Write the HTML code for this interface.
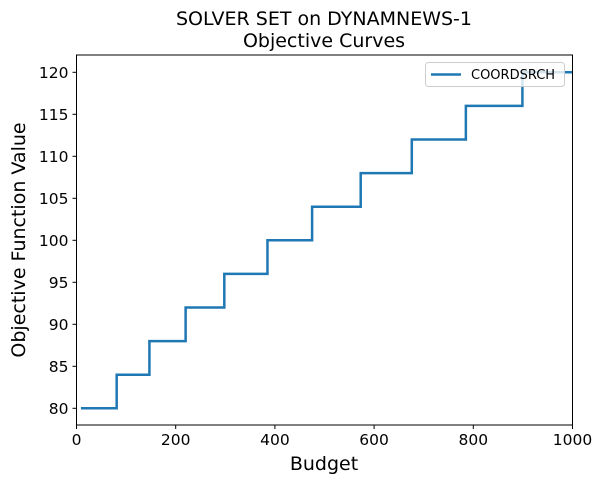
<!DOCTYPE html>
<html><head><meta charset="utf-8"><style>
body{margin:0;background:#fff;font-family:"DejaVu Sans","Liberation Sans",sans-serif}
</style></head><body>
<svg id="chart" width="603" height="484" style="display:block;font-family:'DejaVu Sans',sans-serif">
<text x="324" y="25" font-size="19" text-anchor="middle">SOLVER SET on DYNAMNEWS-1</text>
<text x="324" y="47" font-size="19" text-anchor="middle">Objective Curves</text>
<text x="324" y="470" font-size="19" text-anchor="middle">Budget</text>
<text transform="translate(25,240) rotate(-90)" font-size="19" text-anchor="middle">Objective Function Value</text>
<g id="axes"></g>
</svg>
<script>
const xTicks=[0,200,400,600,800,1000];
const yTicks=[80,85,90,95,100,105,110,115,120];
const budgets=[9,81,147,220,298,385,475,573,676,785,899,1000];
const values=[80,84,88,92,96,100,104,108,112,116,120,120];
const L=76.5,R=572.5,T=55,B=425;
const xs=v=>L+(v-0)/1000*(R-L);
const ys=v=>408.3-(v-80)*8.4;
const ns="http://www.w3.org/2000/svg";
const g=document.getElementById('axes');
function mk(t,a){const e=document.createElementNS(ns,t);for(const k in a)e.setAttribute(k,a[k]);g.appendChild(e);return e;}
let d="M"+xs(budgets[0])+","+ys(values[0]);
for(let i=1;i<budgets.length;i++){d+=" H"+xs(budgets[i])+" V"+ys(values[i]);}
const line=mk('path',{d:d,fill:'none',stroke:'#1f77b4','stroke-width':2.5});


const frame=mk('rect',{x:L,y:T,width:R-L,height:B-T,fill:'none',stroke:'#000','stroke-width':1});


xTicks.forEach(v=>{
 mk('line',{x1:xs(v),x2:xs(v),y1:B,y2:B+4,stroke:'#000'});
 const t=mk('text',{x:xs(v),y:B+20,'font-size':15.5,'text-anchor':'middle'});t.textContent=v;
 
 
});
yTicks.forEach(v=>{
 mk('line',{x1:L-4,x2:L,y1:ys(v),y2:ys(v),stroke:'#000'});
 const t=mk('text',{x:L-8,y:ys(v)+5.5,'font-size':15.5,'text-anchor':'end'});t.textContent=v;
 
 
});
const lg=mk('rect',{x:425.5,y:62.5,width:139,height:24,rx:3,fill:'#fff','fill-opacity':0.8,stroke:'#ccc'});


mk('line',{x1:431,x2:461,y1:74.5,y2:74.5,stroke:'#1f77b4','stroke-width':2.5});
const lt=mk('text',{x:471,y:79,'font-size':13});lt.textContent='COORDSRCH';


</script>
</body></html>
